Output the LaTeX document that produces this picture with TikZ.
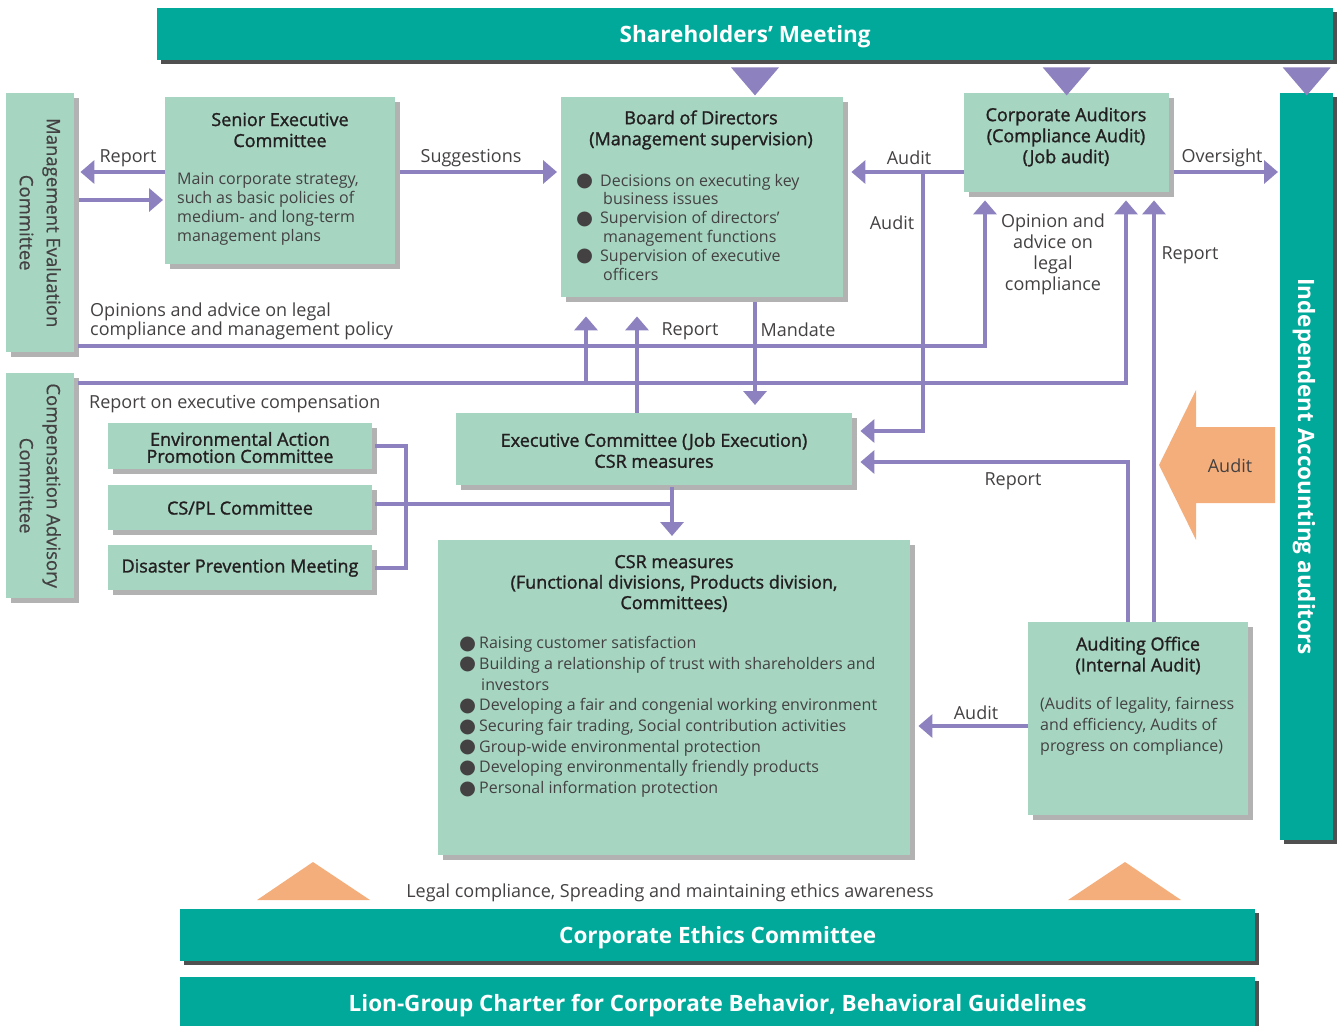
\documentclass[tikz,border=0pt]{standalone}
\usepackage{fontspec}
\setmainfont{Open Sans}
\newfontfamily\bulfont{DejaVu Sans}
\usetikzlibrary{arrows.meta,shadows,calc,positioning}

\definecolor{teal1}{RGB}{0,169,154}
\definecolor{mint}{RGB}{166,213,194}
\definecolor{lilac}{RGB}{141,130,191}
\definecolor{apricot}{RGB}{244,174,124}
\definecolor{shade}{RGB}{178,178,178}
\definecolor{barshade}{RGB}{80,80,80}
\definecolor{ink}{RGB}{35,31,32}

\newcommand{\blt}[1][24pt]{\makebox[#1][l]{\raisebox{-0.5pt}{\bulfont\fontsize{19.5}{19.5}\selectfont ●}}}

\begin{document}
\begin{tikzpicture}[x=1pt, y=-1pt]
\tikzstyle{bartext} = [text=white, font=\bfseries\fontsize{22.5}{26}\selectfont, inner sep=0pt, text depth=0pt]
\tikzstyle{bar} = [bartext, fill=teal1, anchor=north west, drop shadow={shadow xshift=4pt, shadow yshift=-4pt, fill=barshade, opacity=1}]
\tikzstyle{box} = [fill=mint, inner sep=0pt, anchor=north west, drop shadow={shadow xshift=5pt, shadow yshift=-5pt, fill=shade, opacity=1}]
\tikzstyle{title} = [text=ink, font=\fontsize{18}{21}\selectfont\addfontfeatures{FakeBold=1.4}, align=center, inner sep=0pt]
\tikzstyle{body} = [text=ink!85, font=\fontsize{16}{18.8}\selectfont, align=left, inner sep=0pt, anchor=west]
\tikzstyle{lbl} = [text=ink!85, font=\fontsize{18}{21}\selectfont, inner sep=0pt]
\tikzstyle{arr} = [draw=lilac, line width=3.8pt, -{Triangle[length=14pt,width=23pt]}, shorten >=8pt]
\tikzstyle{wire} = [draw=lilac, line width=3.8pt]
\useasboundingbox (0,0) rectangle (1343,1025);

% bars
\node[bar, minimum width=1176pt, minimum height=52pt] (share) at (157,8) {Shareholders’ Meeting};
\node[bar, minimum width=53pt, minimum height=747pt] (iaa) at (1280,93) {};
\node[bartext, rotate=-90] (iaa-t) at (iaa.center) {Independent Accounting auditors};
\node[bar, minimum width=1075pt, minimum height=52pt] (ethics) at (180,909) {Corporate Ethics Committee};
\node[bar, minimum width=1075pt, minimum height=52pt] (charter) at (180,977) {Lion-Group Charter for Corporate Behavior, Behavioral Guidelines};

% committees on the left
\node[box, minimum width=68pt, minimum height=259pt] (mgmt) at (6,93) {};
\node[lbl, rotate=-90, align=center, font=\fontsize{18.5}{27}\selectfont\addfontfeatures{FakeBold=0.6}] (mgmt-t) at (mgmt.center) {Management Evaluation\\Committee};
\node[box, minimum width=68pt, minimum height=225pt] (comp) at (6,373) {};
\node[lbl, rotate=-90, align=center, font=\fontsize{18.5}{27}\selectfont\addfontfeatures{FakeBold=0.6}] (comp-t) at (comp.center) {Compensation Advisory\\Committee};

% boxes
\node[box, minimum width=230pt, minimum height=167pt] (senior) at (165,97) {};
\node[title] (senior-t) at (280,130) {Senior Executive\\Committee};
\node[body, font=\fontsize{16}{18.7}\selectfont] (senior-b) at (177,209) {Main corporate strategy,\\such as basic policies of\\medium- and long-term\\management plans};

\node[box, minimum width=282pt, minimum height=200pt] (board) at (561,97) {};
\node[title] (board-t) at (701,130) {Board of Directors\\(Management supervision)};
\node[body] (board-b) at (576,227) {\blt Decisions on executing key\\\hspace*{27pt}business issues\\\blt Supervision of directors’\\\hspace*{27pt}management functions\\\blt Supervision of executive\\\hspace*{27pt}officers};

\node[box, minimum width=205pt, minimum height=99pt] (corp) at (964,93) {};
\node[title] (corp-t) at (1066,137) {Corporate Auditors\\(Compliance Audit)\\(Job audit)};

\node[box, minimum width=396pt, minimum height=72pt] (exec) at (456,413) {};
\node[title] (exec-t) at (654,450.5) {Executive Committee (Job Execution)\\CSR measures};

\node[box, minimum width=264pt, minimum height=46pt] (env) at (108,423) {};
\node[title, font=\fontsize{18}{17}\selectfont\addfontfeatures{FakeBold=1.4}] (env-t) at (240,447.5) {Environmental Action\\Promotion Committee};
\node[box, minimum width=264pt, minimum height=45pt] (cspl) at (108,485) {};
\node[title] (cspl-t) at (240,508) {CS/PL Committee};
\node[box, minimum width=264pt, minimum height=45pt] (dis) at (108,545) {};
\node[title] (dis-t) at (240,568) {Disaster Prevention Meeting};

\node[box, minimum width=472pt, minimum height=315pt] (csr) at (438,540) {};
\node[title, font=\fontsize{18}{20.5}\selectfont\addfontfeatures{FakeBold=1.4}] (csr-t) at (674,583.5) {CSR measures\\(Functional divisions, Products division,\\Committees)};
\node[body, font=\fontsize{16}{20.7}\selectfont] (csr-b) at (459,717) {\blt[20pt]Raising customer satisfaction\\\blt[20pt]Building a relationship of trust with shareholders and\\\hspace*{22pt}investors\\\blt[20pt]Developing a fair and congenial working environment\\\blt[20pt]Securing fair trading, Social contribution activities\\\blt[20pt]Group-wide environmental protection\\\blt[20pt]Developing environmentally friendly products\\\blt[20pt]Personal information protection};

\node[box, minimum width=220pt, minimum height=193pt] (aud) at (1028,622) {};
\node[title] (aud-t) at (1138,655.5) {Auditing Office\\(Internal Audit)};
\node[body, font=\fontsize{16}{21}\selectfont] (aud-b) at (1040,726.5) {(Audits of legality, fairness\\and efficiency, Audits of\\progress on compliance)};

% levels of the connectors
\coordinate (ya) at (0,172);
\coordinate (yb) at (0,200);
\coordinate (yo) at (0,346);
\coordinate (yc) at (0,383);
\coordinate (yd) at (0,431);
\coordinate (ye) at (0,462);
\coordinate (yf) at (0,504);
\coordinate (yg) at (0,726);
\coordinate (auditx) at (923,172);
\coordinate (opx) at (985,0);
\coordinate (cpx) at (1126,0);
\coordinate (upa) at (586,0);
\coordinate (upb) at (637,0);
\coordinate (mandx) at (755,0);
\coordinate (rpx) at (1154,0);
\coordinate (rqx) at (1128,0);
\coordinate (dnx) at (672,0);
\coordinate (brx) at (406,500);

% from the shareholders' meeting
\foreach \b in {mandx, corp.north, iaa.north}
  \fill[lilac] ($(share.south -| \b)+(-24,7)$) -- ($(share.south -| \b)+(24,7)$) -- ($(share.south -| \b)+(0,35)$) -- cycle;

% connectors
\draw[arr, shorten >=6pt] (senior.west |- ya) -- (mgmt.east |- ya);
\draw[arr, shorten <=5pt, shorten >=2pt] (mgmt.east |- yb) -- (senior.west |- yb);
\draw[arr, shorten <=5pt, shorten >=4pt] (senior.east |- ya) -- (board.west |- ya);
\draw[arr] (corp.west |- ya) -- (board.east |- ya);
\draw[arr] (auditx) |- (exec.east |- yd);
\draw[arr, shorten <=5pt, shorten >=2pt] (corp.east |- ya) -- (iaa.west |- ya);
\draw[arr, shorten <=4pt] (mgmt.east |- yo) -| (opx |- corp.south);
\draw[arr, shorten <=4pt] (comp.east |- yc) -| (cpx |- corp.south);
\draw[arr, shorten >=19pt] (upa |- yc) -- (upa |- board.south);
\draw[arr, shorten >=19pt] (upb |- exec.north) -- (upb |- board.south);
\draw[arr, shorten <=5pt] (mandx |- board.south) -- (mandx |- exec.north);
\draw[arr] (rpx |- aud.north) -- (rpx |- corp.south);
\draw[arr] (rqx |- aud.north) |- (exec.east |- ye);
\draw[arr, shorten <=2pt, shorten >=4pt] (dnx |- exec.south) -- (dnx |- csr.north);
\draw[wire, shorten <=3pt] (cspl.east |- yf) -- (dnx |- yf);
\draw[wire, shorten <=3pt, shorten >=3pt] (env.east) -| (brx) |- (dis.east);
\draw[arr] (aud.west |- yg) -- (csr.east |- yg);

% audit by the accounting auditors
\fill[apricot] (1159,465) -- (1196,390) -- (1196,427) -- (1275,427) -- (1275,503) -- (1196,503) -- (1196,540) -- cycle;
\fill[apricot] (257,900) -- (370,900) -- (313,862) -- cycle;
\fill[apricot] (1068,900) -- (1181,900) -- (1125,862) -- cycle;

% labels
\node[lbl] (l-rep1) at (128,158) {Report};
\node[lbl] (l-sugg) at (471,158) {Suggestions};
\node[lbl] (l-aud1) at (909,158) {Audit};
\node[lbl] (l-over) at (1222,158) {Oversight};
\node[lbl] (l-aud2) at (892,223) {Audit};
\node[lbl, align=center] (l-opin) at (1053,254) {Opinion and\\advice on\\legal\\compliance};
\node[lbl] (l-rep2) at (1190,255) {Report};
\node[lbl, anchor=west, align=left, font=\fontsize{18}{17}\selectfont] (l-advice) at (90,321) {Opinions and advice on legal\\compliance and management policy};
\node[lbl] (l-rep3) at (690,331) {Report};
\node[lbl] (l-mand) at (798,330) {Mandate};
\node[lbl, anchor=west] (l-comp) at (89,404) {Report on executive compensation};
\node[lbl] (l-rep4) at (1013,481) {Report};
\node[lbl] (l-aud3) at (976,713) {Audit};
\node[lbl] (l-aud4) at (1230,466) {Audit};
\node[lbl] (l-ethics) at (670,893) {Legal compliance, Spreading and maintaining ethics awareness};
\end{tikzpicture}
\end{document}
